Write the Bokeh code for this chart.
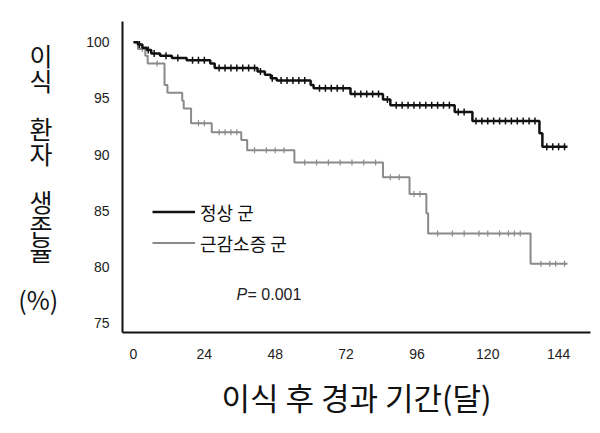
import numpy as np
from bokeh.plotting import figure
from bokeh.models import Range1d, FixedTicker, Legend, LegendItem, Label
from bokeh.embed import file_html
from bokeh.resources import INLINE

# ---- data ----
x_ticks = [0, 24, 48, 72, 96, 120, 144]
y_ticks = [75, 80, 85, 90, 95, 100]

normal_t = [0, 1.5, 3, 4.5, 6, 9, 13, 18, 26, 27.5, 42, 44.5, 46.5, 48.5, 60, 61,
            73.5, 84.5, 87, 108.8, 114.8, 137.5, 138.5, 147]
normal_s = [100, 99.8, 99.5, 99.3, 99.0, 98.8, 98.6, 98.4, 98.1, 97.7, 97.4, 97.1, 96.8, 96.6, 96.2, 95.9,
            95.4, 94.9, 94.4, 93.8, 93.0, 91.9, 90.7, 90.7]
normal_cens = [2, 5, 7, 11, 15, 20, 22, 24, 29, 31, 33, 35, 37, 39, 41, 43, 47, 50, 52, 54, 56, 58,
               63, 65, 67, 69, 71, 75, 77, 79, 81, 83, 86, 89, 91, 93, 95, 97, 99, 101, 103, 105, 107,
               110, 112, 116, 118, 120, 122, 124, 126, 128, 130, 132, 134, 136, 140, 142, 144, 146]

sarc_t = [0, 1.5, 4, 4.8, 10.5, 11.5, 16.5, 17, 19.5, 26.5, 36.5, 38.5, 54.5, 84.5, 93.5, 99.2,
          99.8, 134.5, 147]
sarc_s = [100, 99.4, 98.8, 98.1, 96.2, 95.5, 94.8, 94.1, 92.8, 92.0, 91.3, 90.4, 89.3, 88.0, 86.5, 84.8,
          83.0, 80.3, 80.3]
sarc_cens = [3, 8, 22, 24, 29, 31, 33, 35, 41, 45, 48, 51, 58, 62, 66, 70, 74, 78, 82, 87, 90, 95, 97,
             103, 108, 112, 117, 120, 124, 127, 129, 131, 138, 141, 143, 146]

labels = ["정상 군", "근감소증 군"]
p_text = "= 0.001"
x_title = "이식 후 경과 기간(달)"
y_title = "이 \n식 \n\n환 \n자 \n\n생 \n존 \n율 \n\n(%)"

KR = "Noto Sans CJK KR"
EN = "Liberation Sans"

p = figure(width=600, height=433, output_backend="svg", toolbar_location=None,
           x_range=Range1d(-3.73, 154.8), y_range=Range1d(74.2, 101.84),
           min_border_left=122, min_border_right=10, min_border_top=21, min_border_bottom=101)
p.outline_line_color = None
p.grid.visible = False
p.background_fill_color = "white"

for ax in (p.xaxis[0], p.yaxis[0]):
    ax.axis_line_color = "#111111"
    ax.axis_line_width = 2
    ax.major_tick_line_color = None
    ax.minor_tick_line_color = None
    ax.major_label_text_font = EN
    ax.major_label_text_font_size = "14px"
    ax.major_label_text_color = "#222222"

p.xaxis[0].ticker = FixedTicker(ticks=x_ticks)
p.yaxis[0].ticker = FixedTicker(ticks=y_ticks)
p.xaxis[0].major_label_standoff = 10
p.yaxis[0].major_label_standoff = 7
p.xaxis[0].axis_label = x_title
p.xaxis[0].axis_label_text_font = KR
p.xaxis[0].axis_label_text_font_size = "31px"
p.xaxis[0].axis_label_text_font_style = "normal"
p.xaxis[0].axis_label_text_color = "#111111"
p.xaxis[0].axis_label_standoff = 12

p.yaxis[0].axis_label = y_title
p.yaxis[0].axis_label_orientation = "horizontal"
p.yaxis[0].axis_label_text_font = KR
p.yaxis[0].axis_label_text_font_size = "25px"
p.yaxis[0].axis_label_text_font_style = "normal"
p.yaxis[0].axis_label_text_color = "#111111"
p.yaxis[0].axis_label_text_line_height = 0.677
p.yaxis[0].axis_label_text_align = "center"
p.yaxis[0].axis_label_standoff = 25


def censor_y(ts, ss, cs):
    ts = np.asarray(ts)
    ss = np.asarray(ss)
    idx = np.searchsorted(ts, np.asarray(cs), side="right") - 1
    return ss[idx]


r_sarc = p.step(x=sarc_t, y=sarc_s, mode="after", line_color="#8a8a8a", line_width=2)
p.scatter(x=sarc_cens, y=censor_y(sarc_t, sarc_s, sarc_cens), marker="dash", angle=np.pi / 2,
          size=6, line_color="#8a8a8a", line_width=1.2)
r_norm = p.step(x=normal_t, y=normal_s, mode="after", line_color="#111111", line_width=2.5)
p.scatter(x=normal_cens, y=censor_y(normal_t, normal_s, normal_cens), marker="dash", angle=np.pi / 2,
          size=7, line_color="#111111", line_width=1.5)

legend = Legend(items=[LegendItem(label=labels[0], renderers=[r_norm]),
                       LegendItem(label=labels[1], renderers=[r_sarc])],
                location=(30, 76.5), glyph_width=43, glyph_height=25, label_height=25,
                spacing=5, padding=0, margin=0, label_standoff=5,
                label_text_font=KR, label_text_font_size="18px", label_text_color="#111111",
                background_fill_alpha=0, border_line_color=None)
p.add_layout(legend)

p.add_layout(Label(x=114, y=38, x_units="screen", y_units="screen", text="P",
                   text_font=EN, text_font_style="italic", text_font_size="16px",
                   text_color="#222222", text_baseline="middle"))
p.add_layout(Label(x=125, y=38, x_units="screen", y_units="screen", text=p_text,
                   text_font=EN, text_font_size="16px",
                   text_color="#222222", text_baseline="middle"))

open("out.html", "w").write(file_html(p, INLINE))
